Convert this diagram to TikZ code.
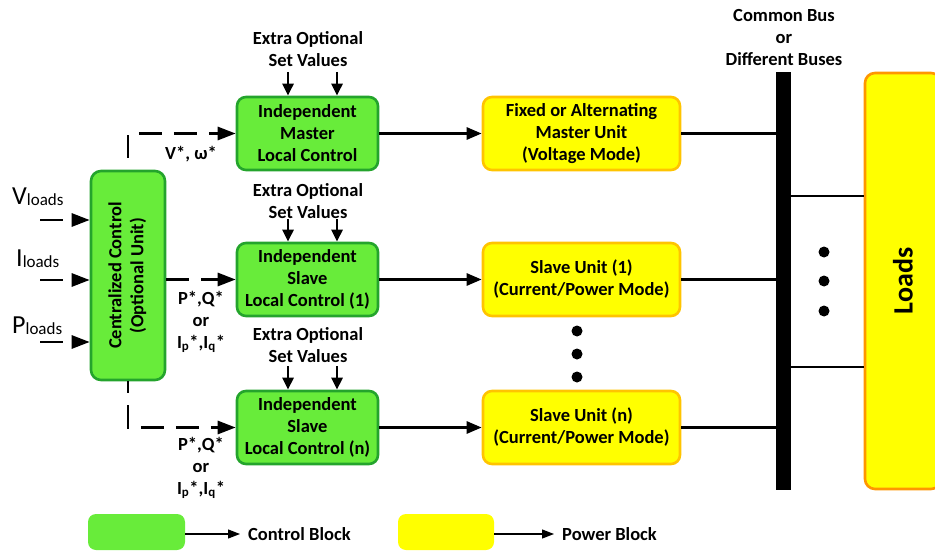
\documentclass[tikz,border=0pt]{standalone}
\usepackage{fontspec}
\usepackage{graphicx}
\setmainfont{Carlito}
\usetikzlibrary{arrows.meta}

\definecolor{ctrlfill}{RGB}{104,236,58}
\definecolor{ctrlline}{RGB}{36,164,44}
\definecolor{pwrfill}{RGB}{255,255,0}
\definecolor{pwrline}{RGB}{255,196,0}
\definecolor{loadline}{RGB}{255,150,0}

\newcommand\lblfont{\fontsize{18.5}{22}\selectfont\bfseries}
\newcommand\infont{\fontsize{26}{28}\selectfont}
\newcommand\subfont{\fontsize{17}{17}\selectfont}

\begin{document}
\begin{tikzpicture}[x=1pt,y=-1pt,
  ctrl/.style={draw=ctrlline, fill=ctrlfill, line width=2.6pt, rounded corners=9pt,
    minimum width=141pt, minimum height=73pt, align=center, font=\lblfont, inner sep=0pt},
  pwr/.style={draw=pwrline, fill=pwrfill, line width=2.6pt, rounded corners=9pt,
    minimum width=197pt, minimum height=73pt, align=center, font=\lblfont, inner sep=0pt},
  lbl/.style={align=center, font=\lblfont, inner sep=0pt},
  flow/.style={line width=2.6pt, -{Triangle[length=15pt,width=12pt]}},
  dsh/.style={line width=2.8pt, dash pattern=on 23pt off 12pt, -{Triangle[length=18pt,width=13pt]}},
  setarrow/.style={line width=2.6pt, -{Triangle[length=12pt,width=11pt]}},
  wire/.style={line width=2.6pt},
  dotnode/.style={circle, fill=black, inner sep=0pt, minimum size=11pt},
  legarrow/.style={line width=1.2pt, shorten >=8pt, -{Triangle[length=12pt,width=9pt]}}
]
\useasboundingbox (0,0) rectangle (935,551);

% centralized controller
\node[draw=ctrlline, fill=ctrlfill, line width=2.6pt, rounded corners=10pt,
  minimum width=74pt, minimum height=209pt, inner sep=0pt, font=\lblfont]
  (cc) at (128,275.5)
  {\rotatebox{90}{\begin{tabular}{@{}c@{}}Centralized Control\\(Optional Unit)\end{tabular}}};

% local controllers
\node[ctrl] (m)  at (307.5,133.5) {Independent\\Master\\Local Control};
\node[ctrl] (s1) at (307.5,279.5) {Independent\\Slave\\Local Control (1)};
\node[ctrl] (sn) at (307.5,427.5) {Independent\\Slave\\Local Control (n)};

% power units
\node[pwr] (pm)  at (581.5,133.5) {Fixed or Alternating\\Master Unit\\(Voltage Mode)};
\node[pwr] (p1)  at (581.5,279.5) {Slave Unit (1)\\(Current/Power Mode)};
\node[pwr] (pn)  at (581.5,427.5) {Slave Unit (n)\\(Current/Power Mode)};

% bus bar and loads
\node[fill=black, minimum width=15pt, minimum height=418pt, inner sep=0pt] (bus) at (783.5,281) {};
\node[draw=loadline, fill=pwrfill, line width=2.6pt, rounded corners=10pt,
  minimum width=76pt, minimum height=416pt, inner sep=0pt, font=\fontsize{28}{30}\selectfont\bfseries]
  (loads) at (903,281) {\rotatebox{90}{Loads}};
\node[lbl] (bustxt) at (784,38) {Common Bus\\or\\Different Buses};

% load inputs
\node[inner sep=0pt, anchor=base west, font=\infont] (vl) at (12,204) {V\raisebox{-0.15ex}{\subfont loads}};
\node[inner sep=0pt, anchor=base west, font=\infont] (il) at (16,266) {I\raisebox{-0.15ex}{\subfont loads}};
\node[inner sep=0pt, anchor=base west, font=\infont] (pl) at (12,333) {P\raisebox{-0.15ex}{\subfont loads}};
\coordinate (vin) at (40,220);
\coordinate (iin) at (40,280);
\coordinate (pin) at (40,342);
\draw[dsh] (vin) -- (vin -| cc.west);
\draw[dsh] (iin) -- (iin -| cc.west);
\draw[dsh] (pin) -- (pin -| cc.west);

% set values from the central unit
\draw[dsh, dash phase=23pt] (cc.north) |- (m.west);
\draw[dsh] (cc.east |- s1.west) -- (s1.west);
\draw[dsh, dash phase=11pt] (cc.south) |- (sn.west);
\node[lbl] (vw) at (191,154) {V*, ω*};
\node[lbl] (pq1) at (201,322) {P*,Q*\\or\\I\textsubscript{p}*,I\textsubscript{q}*};
\node[lbl] (pqn) at (201,468) {P*,Q*\\or\\I\textsubscript{p}*,I\textsubscript{q}*};

% extra optional set values
\node[lbl] (ex1) at (308,49)  {Extra Optional\\Set Values};
\node[lbl] (ex2) at (308,201) {Extra Optional\\Set Values};
\node[lbl] (ex3) at (308,345) {Extra Optional\\Set Values};
\foreach \e/\b/\y in {ex1/m/72, ex2/s1/219, ex3/sn/366}{
  \coordinate (\e a) at (288,\y);
  \coordinate (\e b) at (337,\y);
  \draw[setarrow] (\e a) -- (\e a |- \b.north);
  \draw[setarrow] (\e b) -- (\e b |- \b.north);
}

% control to power
\draw[flow] (m.east) -- (pm.west);
\draw[flow] (s1.east) -- (p1.west);
\draw[flow] (sn.east) -- (pn.west);

% power units to bus
\draw[wire] (pm.east) -- (pm.east -| bus.west);
\draw[wire] (p1.east) -- (p1.east -| bus.west);
\draw[wire] (pn.east) -- (pn.east -| bus.west);

% bus to loads
\coordinate (b1) at (791,196);
\coordinate (b2) at (791,367);
\draw[wire] (b1) -- (b1 -| loads.west);
\draw[wire] (b2) -- (b2 -| loads.west);

% ellipsis dots
\node[dotnode] (d1) at (577,331) {};
\node[dotnode] (d2) at (577,354) {};
\node[dotnode] (d3) at (577,377) {};
\node[dotnode] (d4) at (824,252) {};
\node[dotnode] (d5) at (824,281) {};
\node[dotnode] (d6) at (824,311) {};

% legend
\node[fill=ctrlfill, rounded corners=8pt, minimum width=97pt, minimum height=36pt, inner sep=0pt] (lg) at (136.5,532) {};
\node[lbl, anchor=west] (lgt) at (248,534) {Control Block};
\draw[legarrow] (lg.east |- lgt.west) -- (lgt.west);
\node[fill=pwrfill, rounded corners=8pt, minimum width=96pt, minimum height=36pt, inner sep=0pt] (ly) at (446,532) {};
\node[lbl, anchor=west] (lyt) at (562,534) {Power Block};
\draw[legarrow] (ly.east |- lyt.west) -- (lyt.west);
\end{tikzpicture}
\end{document}
